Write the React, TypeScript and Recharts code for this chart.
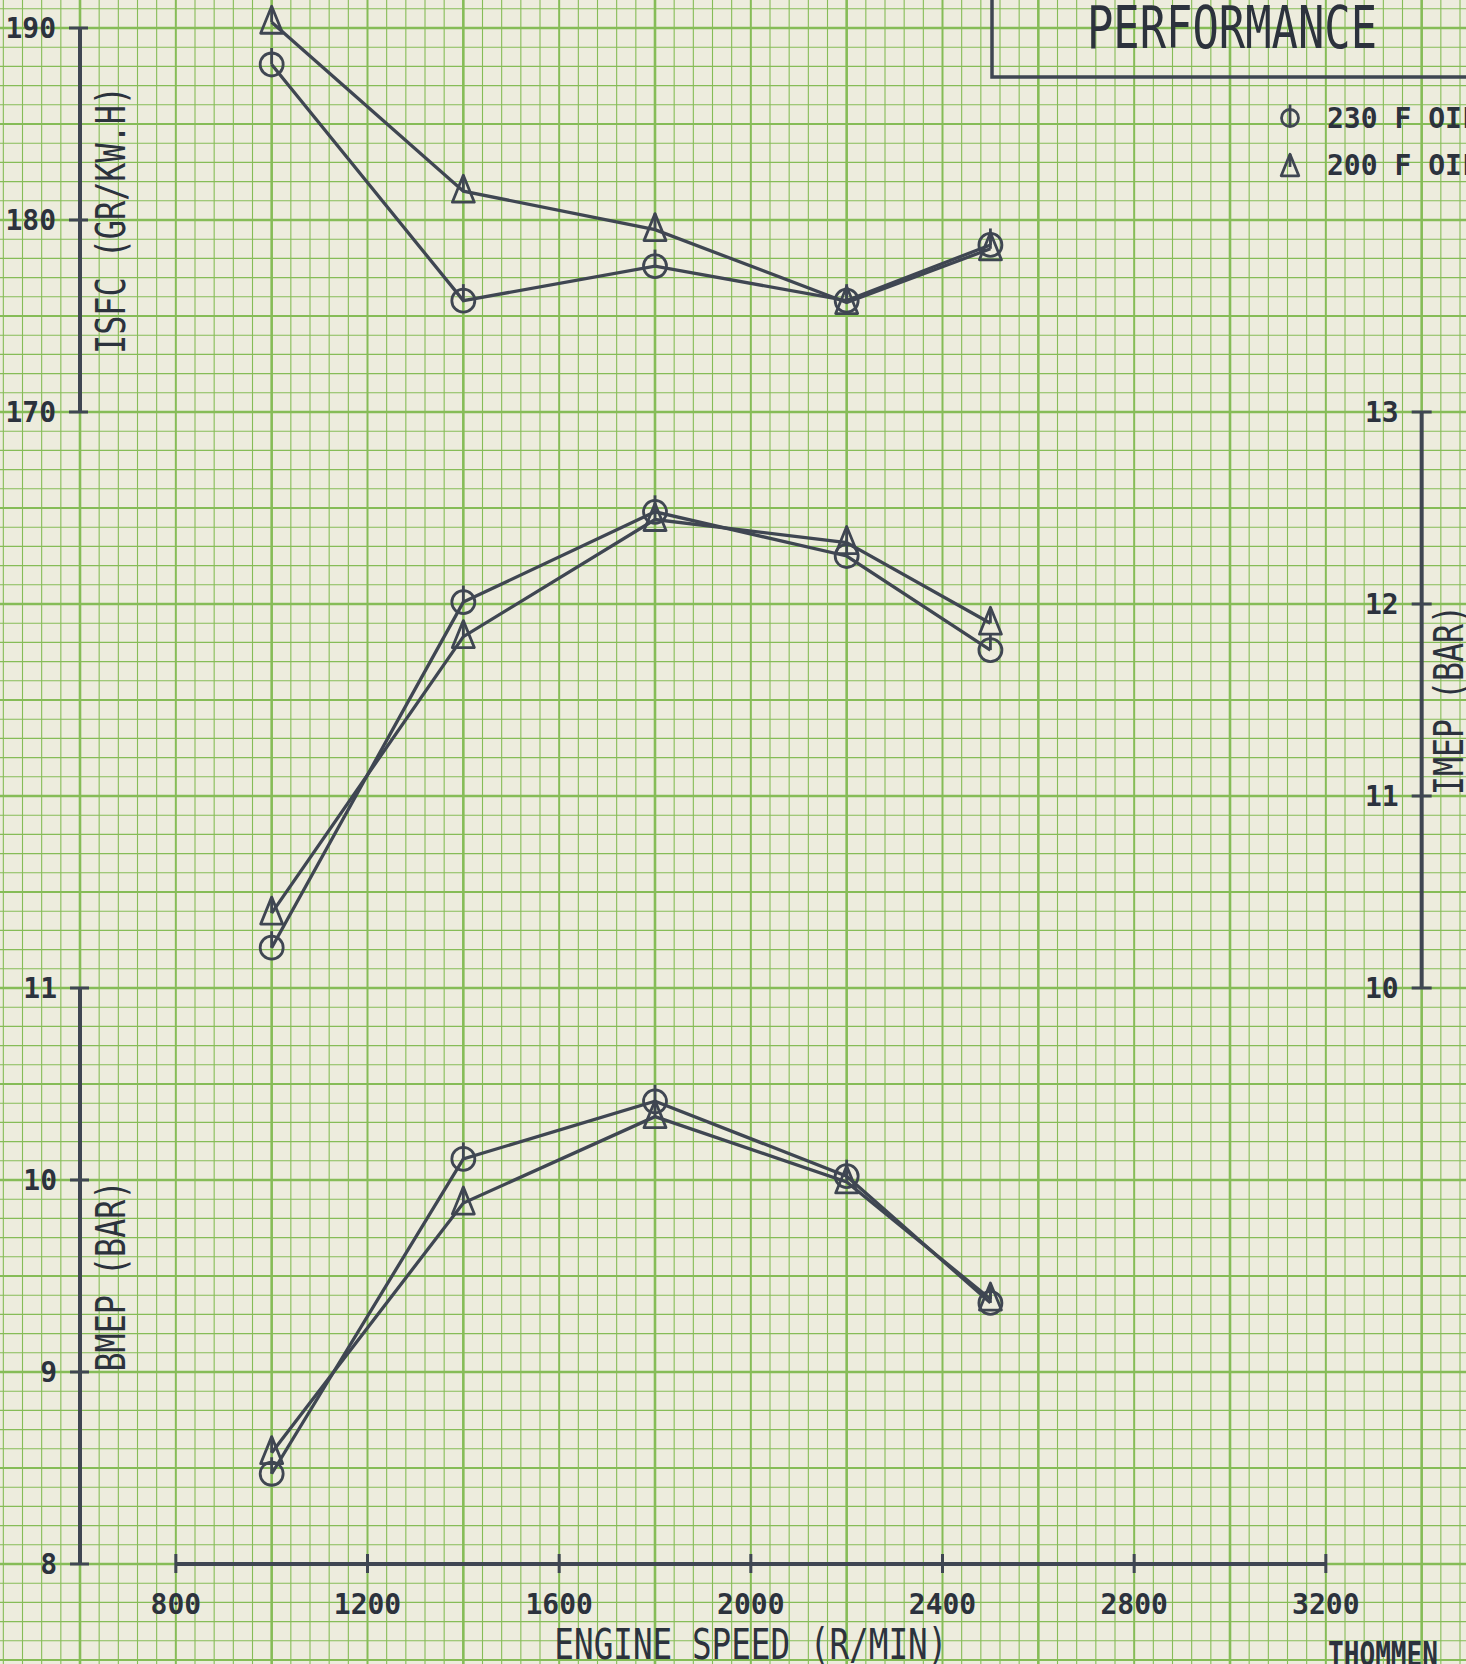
import React from "react";
import { LineChart, Line, XAxis, YAxis, ReferenceLine, Legend } from "recharts";

// engine speed (r/min) of the test points
const speeds = [1000, 1400, 1800, 2200, 2500];

// ISFC, g/kW.h
const isfc230 = [188.1, 175.8, 177.6, 175.8, 178.7];
const isfc200 = [190.3, 181.5, 179.5, 175.7, 178.5];

// IMEP, bar
const imep230 = [10.21, 12.01, 12.48, 12.25, 11.76];
const imep200 = [10.39, 11.83, 12.44, 12.32, 11.9];

// BMEP, bar
const bmep230 = [8.47, 10.11, 10.41, 10.02, 9.36];
const bmep200 = [8.58, 9.88, 10.33, 9.99, 9.38];

const oilNames = ["230 F OIL", "200 F OIL"];

const speedTicks = [800, 1200, 1600, 2000, 2400, 2800, 3200];
const isfcTicks = [170, 180, 190];
const bmepTicks = [8, 9, 10, 11];
const imepTicks = [10, 11, 12, 13];

// page / paper layout
const W = 1466;
const H = 1664;
const LEFT = 80;
const PLOT_W = 1341.67;
const PLOT_H = 1564;
const AXIS_W = 1; // y axes are drawn as thin strips, ticks overflow them
const CELL_X = PLOT_W / 70; // 40 r/min per small square
const CELL_Y = 19.2; // 0.1 bar per small square

const PAPER = "#edecdd";
const GRID = "#86bc57";
const INK = "#3f4652";
const TEXT = "#2c323d";
const FONT = "'DejaVu Sans Mono', 'Liberation Mono', monospace";

const rows = speeds.map((speed, i) => ({
  speed,
  isfc230: isfc230[i],
  isfc200: isfc200[i],
  imep230: imep230[i],
  imep200: imep200[i],
  bmep230: bmep230[i],
  bmep200: bmep200[i],
}));

function GraphPaper() {
  const lines: React.ReactNode[] = [];
  for (let i = -4; i <= 72; i++) {
    const x = LEFT + i * CELL_X;
    const m = ((i % 10) + 10) % 10;
    const w = m === 0 ? 2.6 : m === 5 ? 2 : 1.1;
    lines.push(<line key={"v" + i} x1={x} x2={x} y1={0} y2={H} stroke={GRID} strokeWidth={w} />);
  }
  for (let j = -5; j <= 81; j++) {
    const y = PLOT_H - j * CELL_Y;
    const m = ((j % 10) + 10) % 10;
    const w = m === 0 ? 2.6 : m === 5 ? 2 : 1.1;
    lines.push(<line key={"h" + j} x1={0} x2={W} y1={y} y2={y} stroke={GRID} strokeWidth={w} />);
  }
  return (
    <svg width={W} height={H} style={{ position: "absolute", left: 0, top: 0 }}>
      {lines}
      {/* title block */}
      <polyline points={`992,0 992,77 ${W},77`} fill="none" stroke={INK} strokeWidth={3.5} />
      <text x={1087} y={48} fontFamily={FONT} fontSize={59} fill={TEXT} textLength={290} lengthAdjust="spacingAndGlyphs">
        PERFORMANCE
      </text>
      <text x={1328} y={1666} fontFamily={FONT} fontWeight="bold" fontSize={33} fill={TEXT} textLength={110} lengthAdjust="spacingAndGlyphs">
        THOMMEN
      </text>
    </svg>
  );
}

function CircleMark({ cx, cy, r = 11.5, through = false }: { cx: number; cy: number; r?: number; through?: boolean }) {
  return (
    <g>
      <circle cx={cx} cy={cy} r={r} fill="none" stroke={INK} strokeWidth={2.8} />
      <line x1={cx} x2={cx} y1={cy - r - 5} y2={through ? cy + r : cy} stroke={INK} strokeWidth={2.8} />
    </g>
  );
}

function TriangleMark({ cx, cy, s = 1 }: { cx: number; cy: number; s?: number }) {
  const pts = `${cx},${cy - 16 * s} ${cx + 11 * s},${cy + 11 * s} ${cx - 11 * s},${cy + 11 * s}`;
  return (
    <g>
      <polygon points={pts} fill="none" stroke={INK} strokeWidth={2.8} strokeLinejoin="round" />
      <line x1={cx} x2={cx} y1={cy - 16 * s} y2={cy} stroke={INK} strokeWidth={2.8} />
    </g>
  );
}

const circleDot = (p: any) => <CircleMark key={"c" + p.dataKey + p.index} cx={p.cx} cy={p.cy} />;
const triangleDot = (p: any) => <TriangleMark key={"t" + p.dataKey + p.index} cx={p.cx} cy={p.cy} />;

const XTick = (p: any) => (
  <g>
    <line x1={p.x} x2={p.x} y1={p.y - 10} y2={p.y + 9} stroke={INK} strokeWidth={3} />
    <text x={p.x} y={p.y + 50} textAnchor="middle" fontFamily={FONT} fontWeight="bold" fontSize={28} fill={TEXT}>
      {p.payload.value}
    </text>
  </g>
);

const LeftTick = (p: any) => (
  <g>
    <line x1={p.x - 10} x2={p.x + 9} y1={p.y} y2={p.y} stroke={INK} strokeWidth={3} />
    <text x={p.x - 23} y={p.y + 10} textAnchor="end" fontFamily={FONT} fontWeight="bold" fontSize={28} fill={TEXT}>
      {p.payload.value}
    </text>
  </g>
);

const RightTick = (p: any) => (
  <g>
    <line x1={p.x - 10} x2={p.x + 10} y1={p.y} y2={p.y} stroke={INK} strokeWidth={3} />
    <text x={p.x - 23} y={p.y + 10} textAnchor="end" fontFamily={FONT} fontWeight="bold" fontSize={28} fill={TEXT}>
      {p.payload.value}
    </text>
  </g>
);

// rotated axis title, centred on the drawn axis segment
function axisTitle(text: string, dx: number, len: number) {
  return (p: any) => {
    const vb = p.viewBox;
    if (!vb) return null;
    const x = vb.x + dx;
    const y = vb.y + vb.height / 2;
    return (
      <text
        x={x}
        y={y}
        transform={`rotate(-90 ${x} ${y})`}
        textAnchor="middle"
        fontFamily={FONT}
        fontSize={41}
        fill={TEXT}
        textLength={len}
        lengthAdjust="spacingAndGlyphs"
      >
        {text}
      </text>
    );
  };
}

const xTitle = (p: any) => {
  const vb = p.viewBox;
  if (!vb) return null;
  return (
    <text
      x={vb.x + vb.width / 2}
      y={vb.y + 95}
      textAnchor="middle"
      fontFamily={FONT}
      fontSize={43}
      fill={TEXT}
      textLength={393}
      lengthAdjust="spacingAndGlyphs"
    >
      ENGINE SPEED (R/MIN)
    </text>
  );
};

const renderLegend = (props: any) => {
  const names: string[] = [];
  (props.payload || []).forEach((e: any) => {
    if (!names.includes(e.value)) names.push(e.value);
  });
  names.sort((a, b) => oilNames.indexOf(a) - oilNames.indexOf(b));
  return (
    <svg width={260} height={100} style={{ overflow: "visible" }}>
      {names.map((n, i) => {
        const cy = 28 + i * 47;
        return (
          <g key={n}>
            {oilNames.indexOf(n) === 0 ? (
              <CircleMark cx={20} cy={cy} r={8.5} through />
            ) : (
              <TriangleMark cx={20} cy={cy + 2} s={0.8} />
            )}
            <text x={57} y={cy + 10} fontFamily={FONT} fontWeight="bold" fontSize={28} fill={TEXT}>
              {n}
            </text>
          </g>
        );
      })}
    </svg>
  );
};

export default function App() {
  const axisCommon = {
    axisLine: false,
    tickLine: false,
    tickSize: 0,
    tickMargin: 0,
    interval: 0 as const,
    width: AXIS_W,
    type: "number" as const,
  };
  const lineCommon = {
    type: "linear" as const,
    stroke: INK,
    strokeWidth: 3.3,
    isAnimationActive: false,
    activeDot: false,
  };
  return (
    <div
      style={{
        position: "absolute",
        left: 0,
        top: 0,
        width: W,
        height: H,
        overflow: "hidden",
        background: PAPER,
      }}
    >
      <GraphPaper />
      <div style={{ position: "absolute", left: 0, top: 0 }}>
        <LineChart
          width={W}
          height={H}
          data={rows}
          margin={{ top: 0, right: W - LEFT - PLOT_W - AXIS_W, bottom: 0, left: LEFT - 2 * AXIS_W }}
        >
          <XAxis
            dataKey="speed"
            type="number"
            domain={[600, 3400]}
            ticks={speedTicks}
            interval={0}
            height={H - PLOT_H}
            axisLine={false}
            tickLine={false}
            tickSize={0}
            tickMargin={0}
            tick={XTick}
            label={{ content: xTitle }}
          />
          <YAxis yAxisId="isfc" orientation="left" domain={[110, 110 + PLOT_H / CELL_Y]} ticks={isfcTicks} tick={LeftTick} {...axisCommon} />
          <YAxis yAxisId="bmep" orientation="left" domain={[8, 8 + PLOT_H / (CELL_Y * 10)]} ticks={bmepTicks} tick={LeftTick} {...axisCommon} />
          <YAxis yAxisId="imep" orientation="right" domain={[7, 7 + PLOT_H / (CELL_Y * 10)]} ticks={imepTicks} tick={RightTick} {...axisCommon} />

          {/* drawn axis segments */}
          <ReferenceLine
            yAxisId="bmep"
            segment={[{ x: speedTicks[0], y: bmepTicks[0] }, { x: speedTicks[speedTicks.length - 1], y: bmepTicks[0] }]}
            stroke={INK}
            strokeWidth={4}
            ifOverflow="visible"
          />
          <ReferenceLine
            yAxisId="isfc"
            segment={[{ x: 600, y: isfcTicks[0] }, { x: 600, y: isfcTicks[isfcTicks.length - 1] }]}
            stroke={INK}
            strokeWidth={4}
            ifOverflow="visible"
            label={{ content: axisTitle("ISFC (GR/KW.H)", 45, 268) }}
          />
          <ReferenceLine
            yAxisId="bmep"
            segment={[{ x: 600, y: bmepTicks[0] }, { x: 600, y: bmepTicks[bmepTicks.length - 1] }]}
            stroke={INK}
            strokeWidth={4}
            ifOverflow="visible"
            label={{ content: axisTitle("BMEP (BAR)", 45, 191) }}
          />
          <ReferenceLine
            yAxisId="imep"
            segment={[{ x: 3400, y: imepTicks[0] }, { x: 3400, y: imepTicks[imepTicks.length - 1] }]}
            stroke={INK}
            strokeWidth={4}
            ifOverflow="visible"
            label={{ content: axisTitle("IMEP (BAR)", 41, 190) }}
          />

          <Line yAxisId="isfc" dataKey="isfc230" name={oilNames[0]} dot={circleDot} {...lineCommon} />
          <Line yAxisId="isfc" dataKey="isfc200" name={oilNames[1]} dot={triangleDot} {...lineCommon} />
          <Line yAxisId="imep" dataKey="imep230" name={oilNames[0]} dot={circleDot} {...lineCommon} />
          <Line yAxisId="imep" dataKey="imep200" name={oilNames[1]} dot={triangleDot} {...lineCommon} />
          <Line yAxisId="bmep" dataKey="bmep230" name={oilNames[0]} dot={circleDot} {...lineCommon} />
          <Line yAxisId="bmep" dataKey="bmep200" name={oilNames[1]} dot={triangleDot} {...lineCommon} />

          <Legend
            layout="vertical"
            align="center"
            verticalAlign="middle"
            content={renderLegend}
            wrapperStyle={{ left: 1270, top: 90, width: 260, height: 100 }}
          />
        </LineChart>
      </div>
    </div>
  );
}
